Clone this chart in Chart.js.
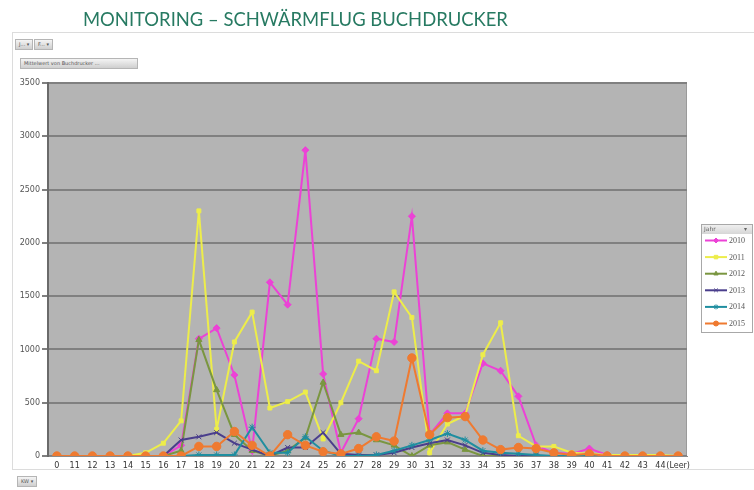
<!DOCTYPE html>
<html><head><meta charset="utf-8">
<script src="https://cdn.jsdelivr.net/npm/chart.js@4.4.0/dist/chart.umd.min.js"></script>
<style>
html,body{margin:0;padding:0;background:#fff;width:754px;height:490px;overflow:hidden;}
#wrap{position:relative;width:754px;height:490px;}
#frame{position:absolute;left:12px;top:32px;width:760px;height:436px;border:1px solid #dcdcdc;}
canvas{position:absolute;left:0;top:0;}
#title{position:absolute;left:83px;top:9px;font-family:Lato,'Open Sans',sans-serif;font-size:20px;line-height:20px;color:#277a62;white-space:nowrap;}
.btn{position:absolute;background:linear-gradient(#f4f4f4,#cfcfcf);border:1px solid #b5b5b5;font-family:'DejaVu Sans',sans-serif;font-size:5px;color:#555;height:9px;line-height:9px;padding:0 3px;white-space:nowrap;}
</style></head>
<body><div id="wrap">
<div id="frame"></div>
<canvas id="c" width="754" height="490"></canvas>
<div id="title">MONITORING – SCHWÄRMFLUG BUCHDRUCKER</div>
<div class="btn" style="left:15px;top:39px;">J... ▾</div>
<div class="btn" style="left:34px;top:39px;">F... ▾</div>
<div class="btn" style="left:20px;top:58px;width:110px;">Mittelwert von Buchdrucker ...</div>
<div class="btn" style="left:17px;top:476px;">KW ▾</div>
</div>
<script>
const categories = ['0','11','12','13','14','15','16','17','18','19','20','21','22','23','24','25','26','27','28','29','30','31','32','33','34','35','36','37','38','39','40','41','42','43','44','(Leer)'];
const seriesNames = ['2010','2011','2012','2013','2014','2015'];
const y2010 = [0,0,0,0,0,0,0,100,1100,1200,760,50,1630,1420,2870,770,30,350,1100,1070,2250,200,400,400,870,800,560,100,30,20,70,10,0,0,0,0];
const y2011 = [0,0,0,0,0,30,120,330,2300,250,1070,1350,450,510,600,160,500,890,800,1540,1300,30,300,380,950,1250,190,90,90,30,20,10,10,10,10,0];
const y2012 = [0,0,0,0,0,0,0,50,1090,620,200,50,0,50,170,690,200,220,150,100,0,100,130,60,0,0,0,0,0,0,0,0,0,0,0,0];
const y2013 = [0,0,0,0,0,0,0,150,180,220,120,60,0,80,80,220,20,10,10,30,80,120,150,100,30,10,0,0,0,0,0,0,0,0,0,0];
const y2014 = [0,0,0,0,0,0,0,0,10,10,10,270,30,30,180,50,0,0,10,50,100,150,210,150,50,30,20,10,0,0,0,0,0,0,0,0];
const y2015 = [0,0,0,0,0,0,0,0,90,90,230,100,0,200,100,40,20,70,180,140,920,200,360,370,150,60,80,70,30,10,20,0,0,0,0,0];
const yTicks = [0,500,1000,1500,2000,2500,3000,3500];

const colors = ['#ec42d6','#eded4a','#7a9640','#4a3e8c','#1f8ea0','#ef7a30'];
const shapes = ['rectRot','rect','triangle','crossRot','star','circle'];
const radii = [3.5,2.8,3.5,3.5,3.5,4.2];
const values = [y2010,y2011,y2012,y2013,y2014,y2015];

(function(){
  const t=document.getElementById('title');
  const cx=document.createElement('canvas').getContext('2d');
  cx.font='20px Lato';
  const w=cx.measureText(t.textContent).width;
  const fs=20*425/w;
  t.style.fontSize=fs.toFixed(2)+'px';
})();

const plotBg = {
  id:'plotBg',
  beforeDraw(chart){
    const {ctx,chartArea:a}=chart;
    ctx.save();
    ctx.fillStyle='#b4b4b4';
    ctx.fillRect(a.left,a.top,a.right-a.left,a.bottom-a.top);
    ctx.strokeStyle='#9a9a9a';ctx.lineWidth=1;
    ctx.strokeRect(a.left+0.5,a.top+0.5,a.right-a.left-1,a.bottom-a.top-1);
    ctx.restore();
  }
};

const boxLegend = {
  id:'boxLegend',
  afterDraw(chart){
    const ctx=chart.ctx;
    const x=701,y=224,w=51,h=108;
    ctx.save();
    ctx.fillStyle='#ffffff';ctx.fillRect(x,y,w,h);
    ctx.strokeStyle='#a8a8a8';ctx.lineWidth=1;ctx.strokeRect(x+0.5,y+0.5,w,h);
    const g=ctx.createLinearGradient(0,y,0,y+10);
    g.addColorStop(0,'#f2f2f2');g.addColorStop(1,'#d6d6d6');
    ctx.fillStyle=g;ctx.fillRect(x+1,y+1,w-1,9);
    ctx.fillStyle='#666';ctx.font='6px "DejaVu Sans"';ctx.textBaseline='middle';ctx.textAlign='left';
    ctx.fillText('Jahr',x+3,y+5.5);
    ctx.fillText('▾',x+w-8,y+5.5);
    chart.data.datasets.forEach((ds,i)=>{
      const cy=y+16.5+i*16.6;
      ctx.strokeStyle=ds.borderColor;ctx.lineWidth=2;
      ctx.beginPath();ctx.moveTo(x+4,cy);ctx.lineTo(x+26,cy);ctx.stroke();
      ctx.fillStyle=ds.pointBackgroundColor;ctx.strokeStyle=ds.pointBorderColor;ctx.lineWidth=1;
      Chart.helpers.drawPoint(ctx,{pointStyle:ds.pointStyle,radius:2.5,borderWidth:1,rotation:0},x+15,cy);
      ctx.fillStyle='#555';ctx.font='8px "Liberation Serif"';ctx.textAlign='left';
      ctx.fillText(ds.label,x+28,cy+0.5);
    });
    ctx.restore();
  }
};

const datasets = seriesNames.map((name,i)=>({
  label:name,
  data:values[i],
  borderColor:colors[i],
  backgroundColor:colors[i],
  pointBackgroundColor:colors[i],
  pointBorderColor:colors[i],
  pointStyle:shapes[i],
  pointRadius:radii[i],
  pointBorderWidth:1,
  borderWidth:2,
  tension:0,
  fill:false,
  order:6-i
}));

new Chart(document.getElementById('c'),{
  type:'line',
  data:{labels:categories,datasets:datasets},
  options:{
    responsive:false,
    animation:false,
    events:[],
    layout:{padding:{top:83,left:0,right:67,bottom:10}},
    plugins:{legend:{display:false},tooltip:{enabled:false},title:{display:false}},
    scales:{
      x:{
        type:'category',
        offset:true,
        grid:{display:false,drawTicks:false},
        border:{display:true,color:'#8a8a8a',width:1},
        ticks:{autoSkip:false,maxRotation:0,minRotation:0,padding:5,color:'#333',font:{family:'DejaVu Sans',size:8}},
        afterFit(s){s.height=24;}
      },
      y:{
        min:0,max:3500,
        afterBuildTicks(s){s.ticks=yTicks.map(v=>({value:v}));},
        grid:{color:'#808080',lineWidth:2,tickLength:6,drawTicks:true},
        border:{display:true,color:'#6a6a6a',width:2},
        ticks:{padding:2,color:'#555',font:{family:'DejaVu Sans',size:8},callback:(v)=>String(v)},
        afterFit(s){s.width=48;}
      }
    }
  },
  plugins:[plotBg,boxLegend]
});
</script>
</body></html>
